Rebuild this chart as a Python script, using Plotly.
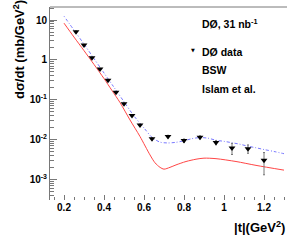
import plotly.graph_objects as go

# DØ data
t_data = [0.26, 0.30, 0.34, 0.38, 0.42, 0.46, 0.50, 0.54, 0.58, 0.64, 0.72, 0.80, 0.88, 0.96, 1.04, 1.12, 1.20]
dsdt_data = [5.1, 2.37, 1.13, 0.59, 0.31, 0.155, 0.079, 0.040, 0.023, 0.0105, 0.0119, 0.0094, 0.0114, 0.0084, 0.0061, 0.0059, 0.0030]
dsdt_err = [0.25, 0.10, 0.05, 0.025, 0.013, 0.007, 0.004, 0.002, 0.0013, 0.0007, 0.0009, 0.0009, 0.0010, 0.0010, 0.0019, 0.0014, 0.0017]

# Blue dotted model curve
t_blue = [0.20, 0.25, 0.30, 0.35, 0.40, 0.45, 0.50, 0.55, 0.60, 0.64, 0.68, 0.72, 0.76, 0.80, 0.84, 0.88, 0.92, 0.96, 1.00, 1.04, 1.08, 1.12, 1.16, 1.20, 1.25, 1.30]
v_blue = [12.6, 5.6, 2.5, 1.08, 0.47, 0.205, 0.089, 0.039, 0.0195, 0.0113, 0.0086, 0.0082, 0.0085, 0.0093, 0.0105, 0.0112, 0.0108, 0.0096, 0.0090, 0.0083, 0.0076, 0.0068, 0.0062, 0.0056, 0.0050, 0.0044]

# Red solid model curve
t_red = [0.20, 0.25, 0.30, 0.35, 0.40, 0.44, 0.48, 0.53, 0.58, 0.63, 0.655, 0.68, 0.70, 0.73, 0.76, 0.81, 0.86, 0.90, 0.96, 1.06, 1.16, 1.30]
v_red = [8.4, 3.75, 1.71, 0.77, 0.34, 0.17, 0.085, 0.031, 0.0119, 0.0041, 0.0026, 0.0020, 0.0018, 0.0020, 0.0023, 0.0028, 0.0032, 0.0034, 0.0033, 0.0028, 0.00224, 0.0017]

y_tickvals = [0.001, 0.01, 0.1, 1, 10]
y_ticktext = ["10<sup>-3</sup>", "10<sup>-2</sup>", "10<sup>-1</sup>", "1", "10"]
x_tickvals = [0.2, 0.4, 0.6, 0.8, 1.0, 1.2]
x_ticktext = ["0.2", "0.4", "0.6", "0.8", "1", "1.2"]

FONT = "Liberation Sans"
GRAY = "rgb(120,120,120)"

fig = go.Figure()
fig.add_trace(go.Scatter(x=t_red, y=v_red, mode="lines", line=dict(color="rgb(255,70,70)", width=1, shape="spline", smoothing=0.8), name="BSW"))
fig.add_trace(go.Scatter(x=t_blue, y=v_blue, mode="lines", line=dict(color="rgb(120,120,255)", width=1, dash="1px,2px,3px,2px", shape="spline", smoothing=0.8), name="Islam et al."))
fig.add_trace(go.Scatter(x=t_data, y=dsdt_data, mode="markers",
                         marker=dict(symbol="triangle-down", size=6, color="black"),
                         error_y=dict(type="data", array=dsdt_err, color=GRAY, thickness=1, width=1),
                         name="DØ data"))

minor_y = [m * 10.0 ** e for e in range(-4, 2) for m in range(2, 10)]
minor_x = [round(0.15 + 0.05 * i, 2) for i in range(24)]

fig.update_layout(
    width=307, height=241,
    margin=dict(l=50, r=20, t=7, b=41),
    paper_bgcolor="white", plot_bgcolor="white",
    showlegend=False,
    font=dict(family=FONT, size=9, color="black", weight="bold"),
    xaxis=dict(range=[0.13, 1.315], tickvals=x_tickvals, ticktext=x_ticktext,
               ticks="inside", ticklen=5, tickcolor=GRAY, showline=False, showgrid=False, zeroline=False,
               tickfont=dict(size=10, family=FONT, weight="bold"),
               minor=dict(tickvals=minor_x, ticks="inside", ticklen=3, tickcolor=GRAY, showgrid=False)),
    yaxis=dict(type="log", range=[-3.52, 1.33], tickvals=y_tickvals, ticktext=y_ticktext,
               ticks="inside", ticklen=7, tickcolor=GRAY, showline=True, linecolor=GRAY, linewidth=1,
               showgrid=False, zeroline=False,
               tickfont=dict(size=10, family=FONT, weight="bold"),
               minor=dict(tickvals=minor_y, ticks="inside", ticklen=4, tickcolor=GRAY, showgrid=False)),
    shapes=[dict(type="line", xref="paper", yref="paper", x0=0, x1=1, y0=1, y1=1,
                 line=dict(color=GRAY, width=1))],
)

ann_font = dict(family=FONT, size=10.5, color="black", weight="bold")
fig.add_annotation(xref="paper", yref="paper", x=(19 - 50) / 237, y=(200 - 50) / 193, text="dσ/dt (mb/GeV<sup>2</sup>)",
                   textangle=-90, showarrow=False, xanchor="center", yanchor="middle",
                   font=dict(family=FONT, size=13, color="black", weight="bold"))
fig.add_annotation(xref="paper", yref="paper", x=1.0, y=(200 - 227) / 193, text="|t|(GeV<sup>2</sup>)",
                   showarrow=False, xanchor="right", yanchor="middle",
                   font=dict(family=FONT, size=13, color="black", weight="bold"))
fig.add_annotation(xref="paper", yref="paper", x=(200 - 50) / 237, y=(200 - 24) / 193, text="DØ, 31 nb<sup>-1</sup>",
                   showarrow=False, xanchor="left", yanchor="middle", font=ann_font)
fig.add_annotation(xref="paper", yref="paper", x=(193 - 50) / 237, y=(200 - 50) / 193, text="▼",
                   showarrow=False, xanchor="center", yanchor="middle", font=dict(family="DejaVu Sans", size=5, color="black"))
fig.add_annotation(xref="paper", yref="paper", x=(200 - 50) / 237, y=(200 - 52) / 193, text="DØ data",
                   showarrow=False, xanchor="left", yanchor="middle", font=ann_font)
fig.add_annotation(xref="paper", yref="paper", x=(200 - 50) / 237, y=(200 - 70) / 193, text="BSW",
                   showarrow=False, xanchor="left", yanchor="middle", font=ann_font)
fig.add_annotation(xref="paper", yref="paper", x=(200 - 50) / 237, y=(200 - 89) / 193, text="Islam et al.",
                   showarrow=False, xanchor="left", yanchor="middle", font=ann_font)

fig.write_html("out.html", config={"displayModeBar": False},
               post_script="document.body.style.margin='0';document.body.style.padding='0';")
